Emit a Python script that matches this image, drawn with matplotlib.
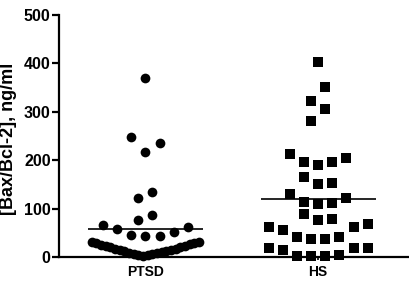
import numpy as np
import matplotlib
matplotlib.use("Agg")
import matplotlib.pyplot as plt

plt.rcParams['font.family'] = ['Liberation Sans', 'DejaVu Sans']
plt.rcParams['font.weight'] = 'bold'

categories = ["PTSD", "HS"]
ptsd_values = [370, 247, 235, 216, 135, 122, 87, 76,
               66, 61, 58, 51, 45, 43, 43, 32, 28,
               28, 25, 23, 20, 17, 15, 12, 10, 8, 6, 4,
               3, 5, 7, 9, 12, 14, 17, 20, 23, 26, 30]
hs_values = [403, 352, 322, 306, 280,
             212, 205, 197, 196, 190,
             166, 152, 150,
             130, 121, 113, 111, 109,
             89, 78, 76,
             68, 61, 61, 56, 42, 41, 37, 37,
             19, 18, 18, 14, 4, 2, 2, 2]
y_ticks = [0, 100, 200, 300, 400, 500]
y_label = "[Bax/Bcl-2], ng/ml"


def row_offsets(values, row_height=32.0, spacing=0.082, max_span=0.62):
    """GraphPad-like column scatter: group values into rows and spread
    each row horizontally, smallest value in the middle."""
    vals = np.asarray(values, dtype=float)
    order = np.argsort(vals, kind='stable')
    offsets = np.zeros(len(vals))
    rows, cur, start = [], [], None
    for idx in order:
        v = vals[idx]
        if start is None or v > start + row_height:
            if cur:
                rows.append(cur)
            cur, start = [idx], v
        else:
            cur.append(idx)
    if cur:
        rows.append(cur)
    for row in rows:
        n = len(row)
        s = spacing
        if n > 1 and (n - 1) * s > max_span:
            s = max_span / (n - 1)
        if n % 2 == 1:
            slots = [0.0]
            k = 1
            while len(slots) < n:
                slots.append(+k)
                if len(slots) < n:
                    slots.append(-k)
                k += 1
        else:
            slots = []
            k = 0.5
            while len(slots) < n:
                slots.append(-k)
                if len(slots) < n:
                    slots.append(+k)
                k += 1
        for idx, sl in zip(row, slots):
            offsets[idx] = sl * s
    return offsets


fig = plt.figure(figsize=(4.09, 2.82), dpi=100)
ax = fig.add_axes([59 / 409, 1 - 257 / 282, 349 / 409, (257 - 15) / 282])

groups = [ptsd_values, hs_values]
markers = ['o', 's']
sizes = [7.0, 6.8]
for i, (vals, mk, ms) in enumerate(zip(groups, markers, sizes)):
    off = row_offsets(vals)
    ax.plot(i + off, vals, linestyle='none', marker=mk, markersize=ms,
            color='black', markeredgewidth=0, clip_on=False, zorder=3)
    m = np.mean(vals)
    ax.plot([i - 0.33, i + 0.335], [m, m], color='black', lw=1.2,
            solid_capstyle='butt', zorder=4)

ax.set_xlim(-0.5, 1.52)
ax.set_ylim(0, 500)
ax.set_yticks(y_ticks)
ax.set_yticklabels([str(t) for t in y_ticks], fontsize=11.5, fontweight='bold')
ax.set_xticks(range(len(categories)))
ax.set_xticklabels(categories, fontsize=10, fontweight='bold')

for side in ['top', 'right']:
    ax.spines[side].set_visible(False)
for side in ['left', 'bottom']:
    ax.spines[side].set_linewidth(1.6)
ax.tick_params(axis='y', direction='out', length=5, width=1.6, pad=1)
ax.tick_params(axis='x', direction='out', length=2.5, width=1.2, pad=3)

fig.text(8.5 / 409, 1 - 138.5 / 282, y_label, rotation=90, ha='center', va='center',
         fontsize=13, fontweight='bold')

fig.savefig("out.png", dpi=100)
